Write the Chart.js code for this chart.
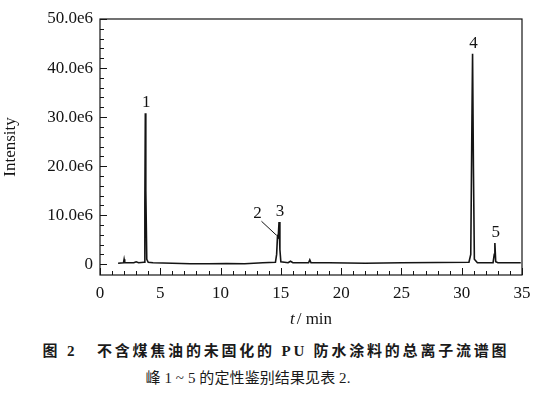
<!DOCTYPE html>
<html>
<head>
<meta charset="utf-8">
<script src="https://cdn.jsdelivr.net/npm/chart.js@4.4.1/dist/chart.umd.min.js"></script>
<style>
    html, body { margin: 0; padding: 0; background: #fff; }
    #wrap { position: relative; width: 540px; height: 403px; overflow: hidden; }
    #chart { position: absolute; left: 0; top: 0; }
    .cap {
        position: absolute; left: 0; width: 540px; text-align: center;
        font-family: "Liberation Serif", "Noto Sans CJK SC", serif; color: #1a1a1a;
        white-space: nowrap;
    }
    #cap1 { top: 339px; font-size: 15px; font-weight: bold; letter-spacing: 2.8px; padding-left: 6px; }
    #cap2 { top: 366px; font-size: 15px; letter-spacing: 0.1px; margin-left: -22px; }
</style>
</head>
<body>
<div id="wrap">
    <canvas id="chart" width="540" height="335"></canvas>
    <div id="cap1" class="cap">图 2&nbsp;&nbsp;&nbsp;不含煤焦油的未固化的 PU 防水涂料的总离子流谱图</div>
    <div id="cap2" class="cap">峰 1 ~ 5 的定性鉴别结果见表 2.</div>
</div>
<script>
// retention time (min) and intensity (x 1e6)
const times = [1.5, 1.95, 2.0, 2.05, 2.8, 3.0, 3.2, 3.65, 3.72, 3.76, 3.8, 3.88, 4.0, 4.4,
    6.0, 7.5, 9.0, 10.5, 12.0, 13.5, 14.55, 14.65, 14.72, 14.78, 14.85, 14.92, 15.0,
    15.6, 15.8, 16.0, 17.3, 17.4, 17.5, 19.0, 22.0, 25.0, 28.0, 30.6, 30.75, 30.85,
    30.9, 30.97, 31.05, 31.3, 32.6, 32.7, 32.75, 32.82, 33.0, 34.9];
const intensity = [0.2, 0.3, 1.0, 0.3, 0.3, 0.5, 0.3, 0.4, 12.0, 30.8, 15.0, 1.0, 0.4, 0.3,
    0.2, 0.1, 0.1, 0.15, 0.1, 0.3, 0.4, 2.0, 5.7, 5.5, 8.6, 3.0, 0.5,
    0.3, 0.6, 0.3, 0.3, 0.9, 0.3, 0.3, 0.2, 0.3, 0.35, 0.4, 2.0, 30.0,
    42.9, 20.0, 1.0, 0.3, 0.3, 2.0, 4.3, 0.5, 0.3, 0.3];

// numbered peaks
const peakLabels = ["1", "2", "3", "4", "5"];
const peakTimes = [3.76, 14.72, 14.85, 30.9, 32.75];
const peakHeights = [30.8, 5.7, 8.6, 42.9, 4.3];

const xTicks = [0, 5, 10, 15, 20, 25, 30, 35];
const yTicks = [0, 10, 20, 30, 40, 50];
const yTickLabels = ["0", "10.0e6", "20.0e6", "30.0e6", "40.0e6", "50.0e6"];

const ink = "#141414";
const serif = "'Liberation Serif', 'Times New Roman', serif";

// frame, inward ticks, peak numbers and x title
const decorations = {
    id: "decorations",
    afterDraw(chart) {
        const { ctx, chartArea: a, scales: { x, y } } = chart;
        ctx.save();
        ctx.strokeStyle = ink;
        ctx.lineWidth = 1.2;
        ctx.strokeRect(a.left, a.top, a.right - a.left, a.bottom - a.top);

        ctx.lineWidth = 1;
        ctx.beginPath();
        for (let t = 0; t <= 35; t++) {
            const px = Math.round(x.getPixelForValue(t)) + 0.5;
            const len = t % 5 === 0 ? 7 : 4;
            ctx.moveTo(px, a.bottom);
            ctx.lineTo(px, a.bottom - len);
        }
        for (let v = 0; v <= 50; v += 2) {
            const py = Math.round(y.getPixelForValue(v)) + 0.5;
            const len = v % 10 === 0 ? 7 : 4;
            ctx.moveTo(a.left, py);
            ctx.lineTo(a.left + len, py);
        }
        ctx.stroke();

        ctx.fillStyle = ink;
        ctx.font = "17px " + serif;
        ctx.textAlign = "center";
        ctx.textBaseline = "alphabetic";
        peakLabels.forEach((lab, i) => {
            const px = x.getPixelForValue(peakTimes[i]);
            const py = y.getPixelForValue(peakHeights[i]);
            if (lab === "2") {
                ctx.fillText(lab, px - 20, py - 18);
                ctx.beginPath();
                ctx.moveTo(px - 16, py - 15);
                ctx.lineTo(px - 1, py - 1);
                ctx.stroke();
            } else {
                ctx.fillText(lab, px + 1, py - 6);
            }
        });

        // x axis title: italic t
        const cx = (a.left + a.right) / 2;
        const ty = 324;
        ctx.textAlign = "left";
        ctx.font = "italic 17px " + serif;
        const wT = ctx.measureText("t").width;
        ctx.font = "17px " + serif;
        const rest = "/ min";
        const wR = ctx.measureText(rest).width;
        const start = cx - (wT + 2 + wR) / 2;
        ctx.font = "italic 17px " + serif;
        ctx.fillText("t", start, ty);
        ctx.font = "17px " + serif;
        ctx.fillText(rest, start + wT + 2, ty);
        ctx.restore();
    }
};

new Chart(document.getElementById("chart").getContext("2d"), {
    type: "scatter",
    data: {
        datasets: [
            {
                data: times.map((t, i) => ({ x: t, y: intensity[i] })),
                showLine: true,
                borderColor: ink,
                borderWidth: 1.6,
                pointRadius: 0,
                tension: 0,
            },
        ],
    },
    options: {
        responsive: false,
        animation: false,
        layout: {
            padding: { top: 19, right: 18, left: 0, bottom: 0 },
        },
        plugins: {
            legend: { display: false },
            tooltip: { enabled: false },
        },
        scales: {
            x: {
                type: "linear",
                min: 0,
                max: 35,
                grid: { display: false, drawTicks: false },
                border: { display: false },
                afterBuildTicks(scale) {
                    scale.ticks = xTicks.map((v) => ({ value: v }));
                },
                afterFit(scale) {
                    scale.height = 335 - 275;
                },
                ticks: {
                    padding: 8,
                    color: ink,
                    font: { family: serif, size: 17 },
                    maxRotation: 0,
                    callback: (v) => String(v),
                },
            },
            y: {
                min: -2.2,
                max: 50,
                grid: { display: false, drawTicks: false },
                border: { display: false },
                afterBuildTicks(scale) {
                    scale.ticks = yTicks.map((v) => ({ value: v }));
                },
                afterFit(scale) {
                    scale.width = 100;
                },
                ticks: {
                    padding: 7,
                    color: ink,
                    font: { family: serif, size: 17 },
                    callback: (v) => yTickLabels[yTicks.indexOf(v)],
                },
                title: {
                    display: true,
                    text: "Intensity",
                    color: ink,
                    font: { family: serif, size: 17 },
                    padding: { top: 0, bottom: 0 },
                },
            },
        },
    },
    plugins: [decorations],
});
</script>
</body>
</html>
